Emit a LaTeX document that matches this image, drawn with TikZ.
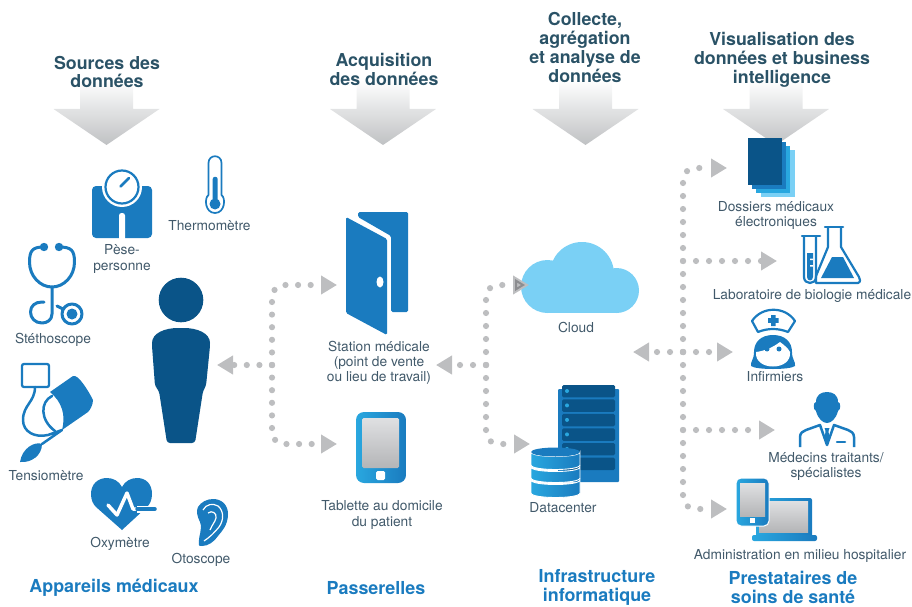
\documentclass[tikz,border=0pt]{standalone}
\usepackage{fontspec}
\setmainfont{TeX Gyre Heros}
\usetikzlibrary{arrows.meta}
\definecolor{DotGray}{HTML}{BDBEC0}
\definecolor{FadeGray}{HTML}{BFC1C3}
\definecolor{LabelInk}{HTML}{41596A}
\definecolor{TitleInk}{HTML}{2A5266}
\definecolor{IconBlue}{HTML}{1A7BBF}
\definecolor{DeepBlue}{HTML}{0A5488}
\definecolor{BrightBlue}{HTML}{29A7DF}
\definecolor{SkyBlue}{HTML}{7AD0F5}
\definecolor{ScreenLight}{HTML}{DFE0E2}
\definecolor{ScreenDark}{HTML}{B4B5B7}
\begin{document}
\begin{tikzpicture}[x={(1pt,0pt)},y={(0pt,-1pt)},
    iconlabel/.style={inner sep=0pt, align=center, text=LabelInk, font=\fontsize{13.75}{15.2}\selectfont},
    headtitle/.style={inner sep=0pt, align=center, text=TitleInk, font=\fontsize{17.8}{18.7}\selectfont\bfseries},
    grouptitle/.style={inner sep=0pt, align=center, text=IconBlue, font=\fontsize{17.9}{19.6}\selectfont\bfseries},
    dotline/.style={draw=DotGray, line width=6.2pt, line cap=round, rounded corners=12pt,
        dash pattern=on 0pt off #1pt, -{Triangle[length=16pt,width=18pt,fill=DotGray]}},
    dotline/.default=13,
    iconline/.style={draw=IconBlue, line width=3pt, line cap=round, line join=round},
    iconthin/.style={draw=IconBlue, line width=2.2pt, line join=round},
    devicebody/.style={left color=BrightBlue, right color=IconBlue},
    devicescreen/.style={shade, shading angle=160, top color=ScreenLight, bottom color=ScreenDark}]

    \useasboundingbox (0,0) rectangle (912,607);

    %% big arrows under the column heads
    \foreach \arrowX in {106.5,383,585.5,776} {
        \shade[top color=white, bottom color=FadeGray]
        ({\arrowX-26.5},80) -- ({\arrowX+26.5},80) -- ({\arrowX+26.5},109) -- ({\arrowX+53},109)
        -- (\arrowX,145) -- ({\arrowX-53},109) -- ({\arrowX-26.5},109) -- cycle;
    }

    %% person
    \fill[DeepBlue] (181,300) circle (22.3);
    \fill[DeepBlue, rounded corners=3pt]
    (152,346) .. controls (152,333) and (165,328) .. (181,328) .. controls (197,328) and (210,333) .. (210,346)
    -- (206,386) -- (203,391) -- (195,443) -- (167,443) -- (159,391) -- (155,386) -- cycle;

    %% scale
    \fill[IconBlue, rounded corners=4pt] (92,186) rectangle (152,238);
    \fill[white, rounded corners=2.5pt] (119,213) rectangle (125,242);
    \fill[white] (122,187) circle (20);
    \draw[IconBlue, line width=2.2pt] (122,187) circle (16.5);
    \draw[IconBlue, line width=2.5pt, line cap=round] (120.5,186.5) -- (129,178);

    %% thermometer
    \draw[IconBlue, line width=1.7pt] (208.5,195) -- (208.5,163) .. controls (208.5,154) and (221.5,154) .. (221.5,163)
    -- (221.5,195) .. controls (226,198) and (225,213) .. (215,213) .. controls (205,213) and (204,198) .. (208.5,195) -- cycle;
    \fill[IconBlue] (212.7,179) .. controls (212.7,176) and (217.7,176) .. (217.7,179) -- (217.7,200) -- (212.7,200) -- cycle;
    \fill[IconBlue] (215,204) circle (5.5);

    %% stethoscope
    \draw[iconline] (44,247) .. controls (33,247) and (29.5,250) .. (29.5,262) .. controls (29.5,276) and (40,287) .. (52,287)
    .. controls (64,287) and (74.5,276) .. (74.5,262) .. controls (74.5,250) and (71,247) .. (59,247);
    \fill[IconBlue] (44,247) circle (4.2) (59,247) circle (4.2);
    \draw[iconline] (52,287) -- (52,314) .. controls (52,320) and (47,323) .. (42,323) .. controls (35,323) and (30.5,318) .. (30.5,312)
    .. controls (30.5,306) and (35,302) .. (42,302) -- (44,302);
    \draw[iconline] (72,314) circle (10);
    \fill[IconBlue] (72,314) circle (5.5);
    \draw[iconline] (57,306) -- (63,309);

    %% blood pressure cuff
    \draw[IconBlue, line width=2.3pt, rounded corners=2pt] (22,364) rectangle (49,387);
    \fill[IconBlue] (50,392) -- (73,376) .. controls (78,374) and (88,390) .. (93,400) .. controls (93,405) and (90,410) .. (88,412)
    -- (62,430) .. controls (66,415) and (62,402) .. (50,392) -- cycle;
    \draw[iconline, line width=2.5pt] (35,387) .. controls (35,402) and (23,405) .. (23,420) .. controls (23,432) and (35,438) .. (48,435) -- (62,430) -- (42,444);
    \draw[iconline, line width=2.5pt] (52,396) .. controls (40,402) and (40,420) .. (55,431);
    \fill[IconBlue] (42,444) .. controls (35,441) and (22,448) .. (20,462) .. controls (32,463) and (42,455) .. (42,444) -- cycle;

    %% heart
    \fill[IconBlue] (122,530) -- (96,507) .. controls (93,504) and (91,500) .. (91,494) .. controls (91,484) and (98,478) .. (107,478)
    .. controls (113,478) and (119,481) .. (122,487) .. controls (125,481) and (131,478) .. (137,478)
    .. controls (146,478) and (152,484) .. (152,494) .. controls (152,500) and (150,504) .. (147,507) -- cycle;
    \draw[white, line width=7pt] (137,509) -- (158,509);
    \draw[white, line width=3.5pt, line join=round, line cap=round] (108,505) -- (117,515) -- (127,493) -- (133,509) -- (136,509);
    \draw[IconBlue, line width=3.5pt, line cap=round] (137,509) -- (155,509);

    %% ear
    \fill[IconBlue] (199,545) .. controls (198,535) and (203,530) .. (200,522) .. controls (197,516) and (196,511) .. (198,507)
    .. controls (201,502) and (207,499) .. (213,499) .. controls (222,499) and (228,505) .. (228,514) .. controls (228,525) and (222,531) .. (218,536)
    .. controls (214,542) and (208,546) .. (202,546) .. controls (200,546) and (199,546) .. (199,545) -- cycle;
    \draw[white, line width=1.2pt] (203,510) .. controls (206,504) and (213,503) .. (218,506) .. controls (224,511) and (224,520) .. (219,527)
    .. controls (214,533) and (210,537) .. (204,541);
    \draw[white, line width=1.2pt] (208,513) .. controls (212,510) and (217,513) .. (216,518) .. controls (215,522) and (212,525) .. (210,530);

    %% door
    \fill[IconBlue, rounded corners=1.5pt] (358,212) -- (408,212) -- (408,312) -- (391,312) -- (391,236) -- (358,217) -- cycle;
    \fill[IconBlue, rounded corners=1.5pt] (346,217) -- (387,239) -- (387,335) -- (346,313) -- cycle;
    \fill[white] (380,282) ellipse (3.5 and 5.5);

    %% tablet
    \shade[devicebody, rounded corners=8pt] (356,412) rectangle (406,483);
    \path[devicescreen, rounded corners=1.5pt] (362,418) rectangle (399,468);
    \fill[white, rounded corners=1.5pt] (376,471) rectangle (385,480);

    %% cloud
    \fill[SkyBlue] (547.5,286.5) circle (26.5) (582,274) circle (32) (616.5,290.5) circle (22.5);
    \fill[SkyBlue] (547.5,280) rectangle (616.5,313);

    %% server rack
    \fill[IconBlue, rounded corners=1pt] (558,389) rectangle (619,482);
    \foreach \unitY in {385,399.4,413.9,428.4,443,457.6} {
        \fill[DeepBlue, rounded corners=1.5pt] (562,\unitY) rectangle (615,{\unitY+12.4});
        \fill[BrightBlue] (567,{\unitY+6}) circle (2);
    }

    %% database stack
    \foreach \diskY/\diskH in {480/13,467/11,452/13} {
        \path[devicebody, draw=white, line width=0.9pt] (531,\diskY) -- (531,{\diskY+\diskH})
        .. controls (531,{\diskY+\diskH+6}) and (580,{\diskY+\diskH+6}) .. (580,{\diskY+\diskH}) -- (580,\diskY)
        .. controls (580,{\diskY+6}) and (531,{\diskY+6}) .. (531,\diskY) -- cycle;
    }
    \fill[IconBlue] (555.5,452) ellipse (24.5 and 4.5);

    %% stack of records
    \foreach \sheetX/\sheetY/\sheetC in {761/150/SkyBlue,756/146/BrightBlue,752/142/IconBlue,748/138/DeepBlue} {
        \fill[\sheetC] (\sheetX,\sheetY) rectangle ({\sheetX+34},{\sheetY+47});
    }

    %% test tube and flask
    \draw[iconthin, line width=2.5pt, line cap=round] (802,236) -- (820,236);
    \draw[iconthin] (804,236) -- (804,277) .. controls (804,285) and (816,285) .. (816,277) -- (816,236);
    \fill[IconBlue] (807,253) -- (813,253) -- (813,277) .. controls (813,281.5) and (807,281.5) .. (807,277) -- cycle;
    \fill[white] (810,258.5) rectangle (813,260) (810,265) rectangle (813,266.5);
    \draw[iconthin, line width=2.5pt, line cap=round] (825,227) -- (843,227);
    \draw[iconthin] (828,227) -- (828,247) -- (816,276) -- (816,283) -- (858,283) .. controls (861,282) and (860,279) .. (859,277) -- (841,247) -- (841,227);
    \fill[IconBlue] (832,257) -- (843,257) -- (854,278) -- (821,278) -- cycle;

    %% nurse
    \draw[iconthin, fill=white] (752,321) .. controls (762,306) and (785,306) .. (795,321) -- (788,332) .. controls (778,328) and (768,328) .. (758,332) -- cycle;
    \fill[IconBlue] (771,315) rectangle (775.5,326) (768,318.2) rectangle (778.5,322.8);
    \fill[IconBlue] (773,335) .. controls (785,335) and (792,342) .. (792,352) .. controls (792,360) and (796,362) .. (795,366)
    .. controls (790,370) and (756,370) .. (751,366) .. controls (750,362) and (754,360) .. (754,352) .. controls (754,342) and (761,335) .. (773,335) -- cycle;
    \fill[white] (756,352) .. controls (764,351) and (772,348) .. (780,342) .. controls (784,345) and (788,348) .. (790,352)
    .. controls (791,361) and (783,366.5) .. (773,366.5) .. controls (763,366.5) and (755,361) .. (756,352) -- cycle;
    \fill[IconBlue] (767,349) circle (2.5) (779,349) circle (2.5);

    %% doctor
    \fill[IconBlue] (816,402) .. controls (816,395) and (821,392) .. (827,392) .. controls (833,392) and (838,395) .. (838,402)
    .. controls (841,402) and (841,410) .. (838,411) .. controls (836,419) and (831,423) .. (827,423)
    .. controls (823,423) and (818,419) .. (816,411) .. controls (813,410) and (813,402) .. (816,402) -- cycle;
    \draw[iconthin, line width=2.5pt] (800,447) -- (800,437) .. controls (800,433) and (803,431) .. (806,430) -- (820,425) -- (827,445)
    -- (834,425) -- (848,430) .. controls (851,431) and (854,433) .. (854,437) -- (854,447);
    \fill[IconBlue] (824.5,428) -- (829.5,428) -- (828.5,431) -- (829.5,440) -- (827,444) -- (824.5,440) -- (825.5,431) -- cycle;
    \draw[IconBlue, line width=2.5pt, line cap=round] (837,442) -- (845,442);

    %% laptop and tablet
    \shade[devicebody, rounded corners=2pt] (756,498) rectangle (812,537);
    \path[devicescreen] (759,501) rectangle (808,532);
    \shade[devicebody, rounded corners=2pt] (752,535) rectangle (817,541);
    \shade[devicebody, rounded corners=5pt, draw=white, line width=1pt] (736,478) rectangle (769,526);
    \path[devicescreen] (740,483) rectangle (765,516);
    \fill[white] (750,518) rectangle (755,523);

    %% connectors, gateway group
    \coordinate (GateHub) at (272,365);
    \coordinate (StationIn) at (337,285);
    \coordinate (TabletIn) at (337,444);
    \coordinate (PersonIn) at (217,365);
    \draw[dotline=12.6] (GateHub) |- (StationIn);
    \draw[dotline=12.6] (GateHub) |- (TabletIn);
    \draw[dotline=12.6] (GateHub) -- (PersonIn);

    %% connectors, infrastructure group
    \coordinate (CloudHub) at (486,365);
    \coordinate (CloudIn) at (529,285);
    \coordinate (CenterIn) at (530,444);
    \coordinate (GateIn) at (436,365);
    \begin{scope}[blend group=multiply]
        \draw[dotline] (CloudHub) |- (CloudIn);
    \end{scope}
    \draw[dotline] (CloudHub) |- (CenterIn);
    \draw[dotline] (CloudHub) -- (GateIn);

    %% connectors, care group
    \coordinate (CareHub) at (683,352);
    \coordinate (LabFork) at (683,261);
    \coordinate (DoctorFork) at (683,430);
    \coordinate (RecordIn) at (727,168);
    \coordinate (LabIn) at (777,261);
    \coordinate (NurseIn) at (733,352);
    \coordinate (DoctorIn) at (775,430);
    \coordinate (AdminIn) at (727,509);
    \coordinate (CloudOut) at (633,352);
    \draw[dotline] (CareHub) |- (RecordIn);
    \draw[dotline] (CareHub) |- (AdminIn);
    \draw[dotline] (LabFork) -- (LabIn);
    \draw[dotline] (CareHub) -- (NurseIn);
    \draw[dotline] (DoctorFork) -- (DoctorIn);
    \draw[dotline] (CareHub) -- (CloudOut);

    %% column heads
    \node[headtitle] (HeadSources) at (107,72) {Sources des\\données};
    \node[headtitle] (HeadGate) at (384,69.5) {Acquisition\\des données};
    \node[headtitle] (HeadCloud) at (585,47.5) {Collecte,\\agrégation\\et analyse de\\données};
    \node[headtitle] (HeadCare) at (782,60) {Visualisation des\\données et business\\intelligence};

    %% icon labels
    \node[iconlabel] (LabelThermo) at (209.5,226) {Thermomètre};
    \node[iconlabel] (LabelScale) at (122,259) {Pèse-\\personne};
    \node[iconlabel] (LabelSteth) at (53,339.5) {Stéthoscope};
    \node[iconlabel] (LabelCuff) at (46,476) {Tensiomètre};
    \node[iconlabel] (LabelOxy) at (120,543.5) {Oxymètre};
    \node[iconlabel] (LabelOto) at (201,559.5) {Otoscope};
    \node[iconlabel] (LabelStation) at (379,363) {Station médicale\\(point de vente\\ou lieu de travail)};
    \node[iconlabel] (LabelTablet) at (382,515) {Tablette au domicile\\du patient};
    \node[iconlabel] (LabelCloud) at (576,327) {Cloud};
    \node[iconlabel] (LabelCenter) at (563,508) {Datacenter};
    \node[iconlabel] (LabelRecord) at (776,215.5) {Dossiers médicaux\\électroniques};
    \node[iconlabel] (LabelLab) at (812,296) {Laboratoire de biologie médicale};
    \node[iconlabel] (LabelNurse) at (775,377) {Infirmiers};
    \node[iconlabel] (LabelDoctor) at (826,466.5) {Médecins traitants/\\spécialistes};
    \node[iconlabel] (LabelAdmin) at (800,556) {Administration en milieu hospitalier};

    %% group titles
    \node[grouptitle] (GroupDevices) at (114,588) {Appareils médicaux};
    \node[grouptitle] (GroupGate) at (376,588) {Passerelles};
    \node[grouptitle] (GroupInfra) at (597,587.5) {Infrastructure\\informatique};
    \node[grouptitle] (GroupCare) at (793,587.5) {Prestataires de\\soins de santé};
\end{tikzpicture}
\end{document}
